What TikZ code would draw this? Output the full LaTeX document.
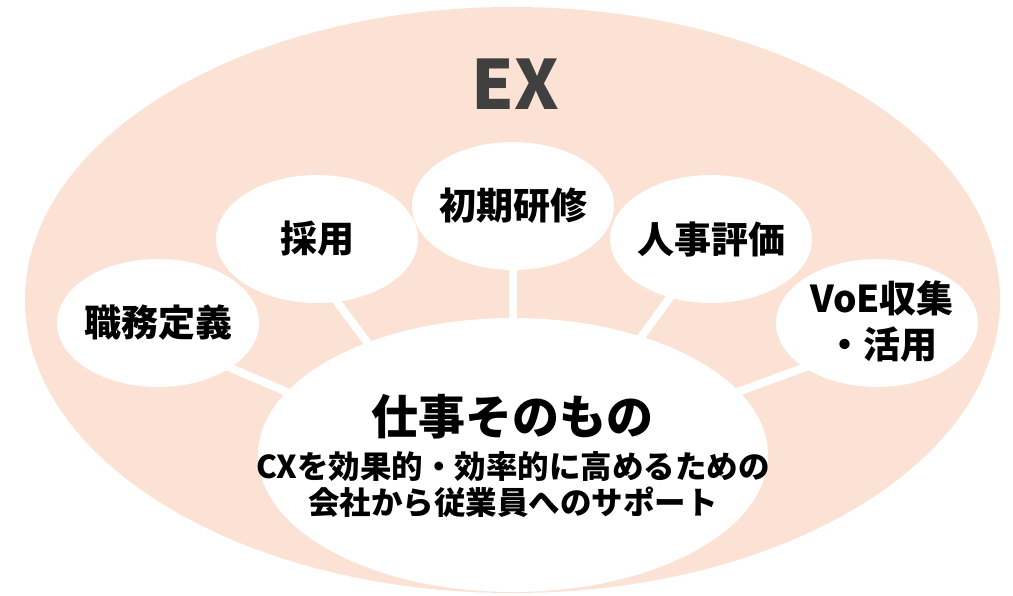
\documentclass[tikz,border=0pt]{standalone}
\usepackage{fontspec}
\newfontfamily\jp{Noto Sans CJK JP}
\usetikzlibrary{shapes.geometric,backgrounds,calc}
\definecolor{peach}{HTML}{FBE2D5}
\definecolor{exgray}{HTML}{404040}
\tikzset{
  bubble/.style={ellipse, fill=white, draw=none, minimum width=202pt, minimum height=128pt, inner sep=0pt},
  hubshape/.style={ellipse, fill=white, draw=none, minimum width=510pt, minimum height=274pt, inner sep=0pt},
  lbl/.style={font=\jp\bfseries\fontsize{37}{46}\selectfont, text=black, align=center, inner sep=0pt},
  link/.style={draw=white, line width=8pt},
}
\begin{document}
\begin{tikzpicture}[x=1pt,y=-1pt]
\useasboundingbox (0,0) rectangle (1013,596);
% bubbles
\node[bubble] (shokumu) at (158,323) {};
\node[bubble] (saiyo) at (317,239) {};
\node[bubble] (kenshu) at (513,206) {};
\node[bubble] (hyoka) at (711,239) {};
\node[bubble] (voe) at (877,323) {};
\node[hubshape] (hub) at (513,455) {};
% background: outer EX ellipse and links
\begin{scope}[on background layer]
  \fill[white] (0,0) rectangle (1013,596);
  \fill[peach] (512.5,300) ellipse [x radius=487.5pt, y radius=293pt];
  \draw[link] ($(shokumu)+(54,37)$) -- ($(hub)+(-212,-57)$);
  \draw[link] ($(saiyo)+(5,43)$) -- ($(hub)+(-140,-105)$);
  \draw[link] ($(kenshu)+(0,44)$) -- ($(hub)+(0,-115)$);
  \draw[link] ($(hyoka)+(-29,42)$) -- ($(hub)+(118,-104)$);
  \draw[link] ($(voe)+(-55,38)$) -- ($(hub)+(211,-58)$);
\end{scope}
% texts
\node[font=\jp\bfseries\fontsize{68}{68}\selectfont, text=exgray, inner sep=0pt] (ex) at (515,84) {EX};
\node[lbl] (t-shokumu) at (shokumu) {職務定義};
\node[lbl] (t-saiyo) at (saiyo) {採用};
\node[lbl] (t-kenshu) at (kenshu) {初期研修};
\node[lbl] (t-hyoka) at (hyoka) {人事評価};
\node[lbl] (t-voe) at ($(voe)+(5,-1)$) {VoE収集\\・活用};
\node[lbl, font=\jp\bfseries\fontsize{47}{47}\selectfont] (t-hub) at (512,417) {仕事そのもの};
\node[lbl, font=\jp\bfseries\fontsize{31.5}{36}\selectfont] (t-sub) at (513,485) {CXを効果的・効率的に高めるための\\会社から従業員へのサポート};
\end{tikzpicture}
\end{document}
